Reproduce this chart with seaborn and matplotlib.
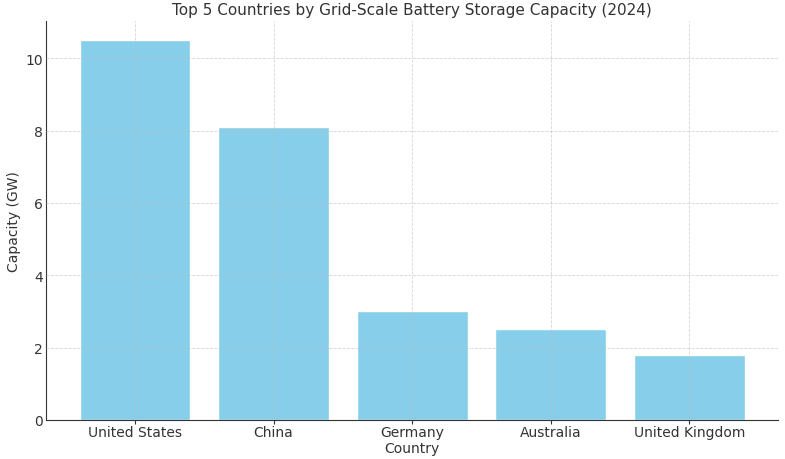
import matplotlib
matplotlib.use("Agg")
import matplotlib.pyplot as plt
import seaborn as sns
import pandas as pd

# data
countries = ["United States", "China", "Germany", "Australia", "United Kingdom"]
capacity_gw = [10.5, 8.1, 3.0, 2.5, 1.8]

df = pd.DataFrame({"Country": countries, "Capacity (GW)": capacity_gw})

sns.set_style("ticks")
plt.rcParams["font.family"] = ["DejaVu Sans"]
text_col = "#333333"

fig, ax = plt.subplots(figsize=(7.85, 4.6), dpi=100)
sns.barplot(data=df, x="Country", y="Capacity (GW)", color="#87CEEB",
            saturation=1, width=0.8, ax=ax)

# matplotlib-like default margins instead of seaborn's tight ones
ax.set_xlim(-0.64, len(countries) - 1 + 0.64)
ax.set_ylim(0, max(capacity_gw) * 1.05)

ax.grid(True, linestyle="--", linewidth=0.6, color="#bbbbbb", alpha=0.6)
ax.set_axisbelow(False)
sns.despine(ax=ax)
for side in ["left", "bottom"]:
    ax.spines[side].set_color("#333333")

ax.set_title("Top 5 Countries by Grid-Scale Battery Storage Capacity (2024)",
             fontsize=11, color=text_col, pad=5)
ax.set_xlabel("Country", fontsize=10, color=text_col, labelpad=1)
ax.set_ylabel("Capacity (GW)", fontsize=10, color=text_col, labelpad=3)
ax.tick_params(colors=text_col, labelsize=10)
ax.tick_params(axis="x", length=3, pad=1)
ax.tick_params(axis="y", length=0, pad=2.5)

fig.subplots_adjust(left=0.059, right=0.991, top=0.952, bottom=0.085)
plt.savefig("out.png", dpi=100)
